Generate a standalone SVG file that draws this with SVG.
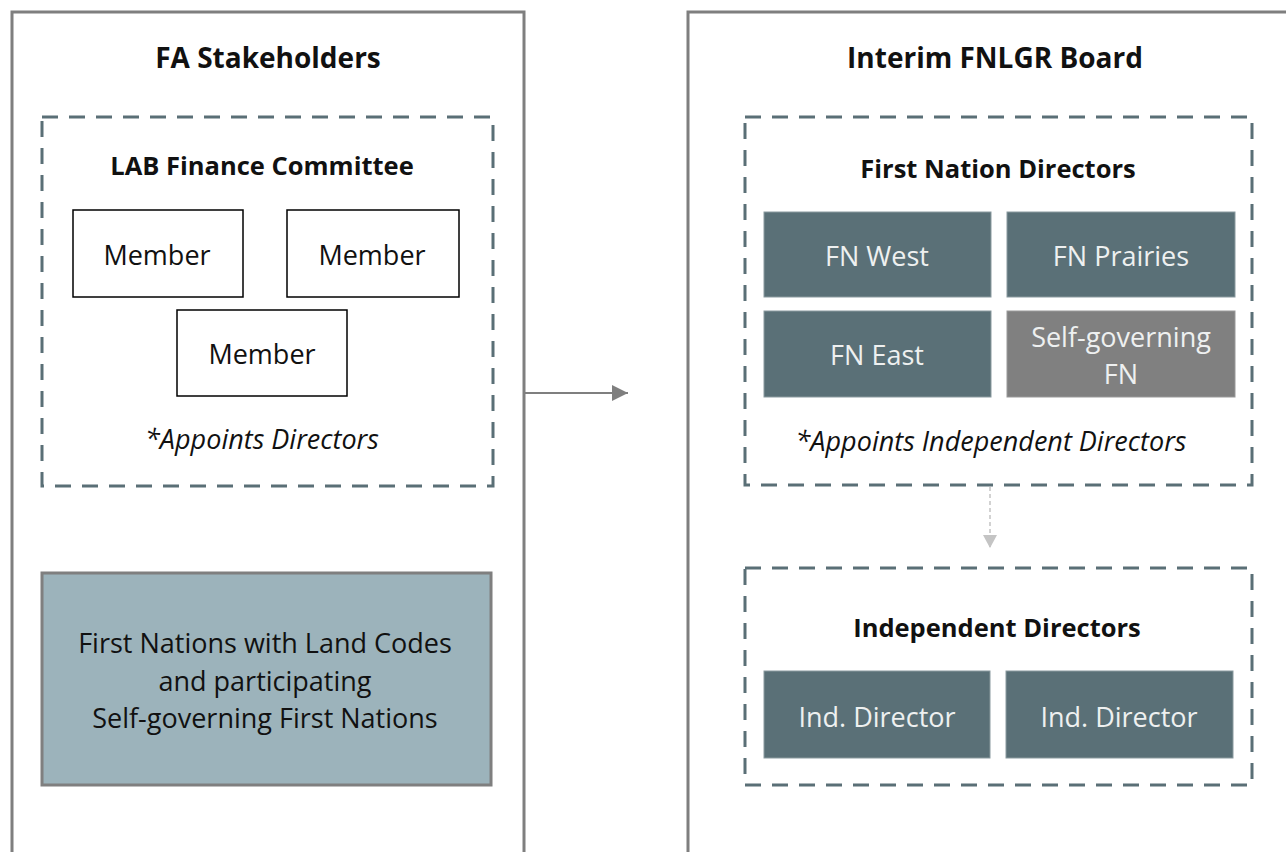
<svg xmlns="http://www.w3.org/2000/svg" width="1286" height="852" viewBox="0 0 1286 852">
<defs>
<marker id="ah" markerWidth="16" markerHeight="16" refX="16" refY="8" orient="auto" markerUnits="userSpaceOnUse"><path d="M0,0 L16,8 L0,16 z" fill="#7f7f7f"/></marker>
<marker id="ah2" markerWidth="13" markerHeight="14" refX="13" refY="7" orient="auto" markerUnits="userSpaceOnUse"><path d="M0,0 L13,7 L0,14 z" fill="#c4c4c4"/></marker>
</defs>
<style>
text{font-family:"Open Sans","Liberation Sans",sans-serif;text-anchor:middle;dominant-baseline:central}
.outer{fill:#fff;stroke:#7f7f7f;stroke-width:3}
.dash{fill:none;stroke:#5a6f76;stroke-width:3;stroke-dasharray:16 11}
.title{font-size:28px;font-weight:bold;fill:#111}
.sub{font-size:25.5px;font-weight:bold;fill:#111}
.mem{fill:#fff;stroke:#000;stroke-width:1.5}
.memt{font-size:27px;fill:#111}
.note{font-size:27px;font-style:italic;fill:#111}
.dark{fill:#5a7077;stroke:#8a9a9f;stroke-width:1}
.grey{fill:#808080;stroke:#999;stroke-width:1}
.wt{font-size:27px;fill:#eef0f0}
.fnt{font-size:27px;fill:#111}
</style>
<g id="fa-stakeholders">
<rect class="outer" x="12" y="12" width="512" height="850"/>
<text class="title" x="268" y="57">FA Stakeholders</text>
</g>
<g id="lab-finance-committee">
<rect class="dash" x="42" y="117" width="451" height="369"/>
<text class="sub" x="262" y="165">LAB Finance Committee</text>
<text class="note" x="262" y="438">*Appoints Directors</text>
</g>
<g id="member-1"><rect class="mem" x="73" y="210" width="170" height="87"/><text class="memt" x="157" y="254">Member</text></g>
<g id="member-2"><rect class="mem" x="287" y="210" width="172" height="87"/><text class="memt" x="372" y="254">Member</text></g>
<g id="member-3"><rect class="mem" x="177" y="310" width="170" height="86"/><text class="memt" x="262" y="353">Member</text></g>
<g id="first-nations">
<rect x="42" y="573" width="449" height="212" fill="#9cb3bb" stroke="#7f7f7f" stroke-width="3"/>
<text class="fnt" x="265" y="642">First Nations with Land Codes</text>
<text class="fnt" x="265" y="680">and participating</text>
<text class="fnt" x="265" y="717">Self-governing First Nations</text>
</g>
<g id="interim-board">
<rect class="outer" x="688" y="12" width="620" height="850"/>
<text class="title" x="995" y="57">Interim FNLGR Board</text>
</g>
<g id="first-nation-directors">
<rect class="dash" x="745" y="117" width="507" height="368"/>
<text class="sub" x="998" y="168">First Nation Directors</text>
<text class="note" x="991" y="440">*Appoints Independent Directors</text>
</g>
<g id="fn-west"><rect class="dark" x="764" y="212" width="227" height="85"/><text class="wt" x="877" y="255">FN West</text></g>
<g id="fn-prairies"><rect class="dark" x="1007" y="212" width="228" height="85"/><text class="wt" x="1121" y="255">FN Prairies</text></g>
<g id="fn-east"><rect class="dark" x="764" y="311" width="227" height="86"/><text class="wt" x="877" y="354">FN East</text></g>
<g id="self-governing-fn"><rect class="grey" x="1007" y="311" width="228" height="86"/><text class="wt" x="1121" y="336">Self-governing</text><text class="wt" x="1121" y="373">FN</text></g>
<g id="independent-directors">
<rect class="dash" x="745" y="568" width="507" height="217"/>
<text class="sub" x="997" y="627">Independent Directors</text>
</g>
<g id="ind-director-1"><rect class="dark" x="764" y="671" width="226" height="87"/><text class="wt" x="877" y="716">Ind. Director</text></g>
<g id="ind-director-2"><rect class="dark" x="1006" y="671" width="227" height="87"/><text class="wt" x="1119" y="716">Ind. Director</text></g>
<g id="connectors">
<line x1="525" y1="393" x2="628" y2="393" stroke="#7f7f7f" stroke-width="2" marker-end="url(#ah)"/>
<line x1="990" y1="487" x2="990" y2="548" stroke="#c4c4c4" stroke-width="1.5" stroke-dasharray="4 3" marker-end="url(#ah2)"/>
</g>
</svg>
